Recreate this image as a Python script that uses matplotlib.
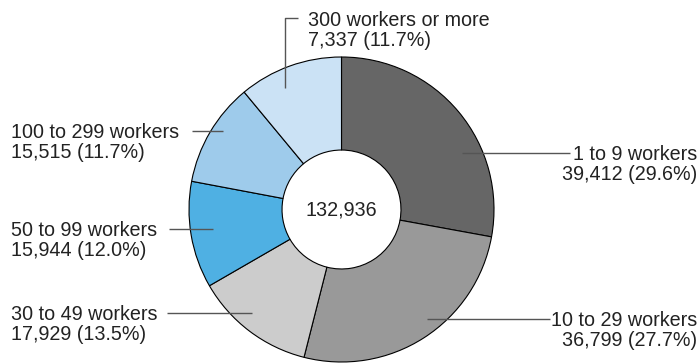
import matplotlib.pyplot as plt

plt.rcParams['font.family'] = ['Liberation Sans', 'DejaVu Sans']

# establishments by number of workers
groups = ['1 to 9 workers', '10 to 29 workers', '30 to 49 workers',
          '50 to 99 workers', '100 to 299 workers', '300 workers or more']
counts = [39412, 36799, 17929, 15944, 15515, 7337]
shares = [29.6, 27.7, 13.5, 12.0, 11.7, 11.7]
total = 132936
colors = ['#666666', '#999999', '#cccccc', '#4fb0e3', '#9ecbeb', '#cbe2f5']

W, H = 699, 363
fig = plt.figure(figsize=(W / 100, H / 100), dpi=100)
ax = fig.add_axes([0, 0, 1, 1])

cx, cy, R = 341.5, H - 209.5, 152.5
ax.pie(shares, colors=colors, startangle=90, counterclock=False,
       center=(cx, cy), radius=R, frame=True,
       wedgeprops=dict(width=R * 0.61, edgecolor='black', linewidth=0.8))
ax.set_xlim(0, W)
ax.set_ylim(0, H)
ax.set_aspect('equal')
ax.axis('off')

ax.text(cx, cy, f'{total:,}', ha='center', va='center', fontsize=14.2, color='#222222')

line_kw = dict(color='#555555', linewidth=1.0, solid_capstyle='butt')
txt_kw = dict(fontsize=14.2, color='#222222', va='baseline')


def label(x, y, i, ha):
    # two lines: group name, then count and share
    ax.text(x, H - y - 7.5, groups[i], ha=ha, **txt_kw)
    ax.text(x, H - y - 27.5, f'{counts[i]:,} ({shares[i]:.1f}%)', ha=ha, **txt_kw)


# right side labels
right = [(0, 462, 570, 152.5), (1, 427, 550, 319)]
for i, x0, x1, y in right:
    ax.plot([x0, x1], [H - y, H - y], **line_kw)
    label(W - 2, y, i, 'right')

# left side labels
left = [(2, 252, 167, 313), (3, 213, 169, 228.5), (4, 223, 192, 130.5)]
for i, x0, x1, y in left:
    ax.plot([x0, x1], [H - y, H - y], **line_kw)
    label(11, y, i, 'left')

# top label with an elbow leader
ax.plot([285, 285, 298], [H - 88, H - 18, H - 18], **line_kw)
label(308, 18, 5, 'left')

fig.savefig('out.png', dpi=100)
